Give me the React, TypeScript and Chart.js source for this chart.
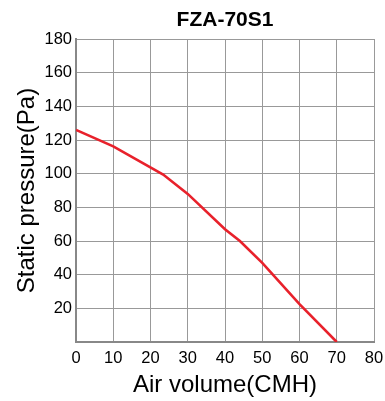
import React, { useEffect, useRef } from "react";
import { Chart, registerables } from "chart.js";

Chart.register(...registerables);

const chartTitle = "FZA-70S1";
const xAxisTitle = "Air volume(CMH)";
const yAxisTitle = "Static pressure(Pa)";
const airVolume = [0, 10, 23.4, 30, 40, 44, 50, 60, 70];
const staticPressure = [126, 116.2, 99.5, 88, 67, 60, 47, 22.5, 0];
const xTicks = [0, 10, 20, 30, 40, 50, 60, 70, 80];
const yTicks = [20, 40, 60, 80, 100, 120, 140, 160, 180];

const FONT = "'Liberation Sans', Arial, Helvetica, sans-serif";

export default function App() {
  const ref = useRef<HTMLCanvasElement | null>(null);

  useEffect(() => {
    if (!ref.current) return;
    const data = airVolume.map((x, i) => ({ x, y: staticPressure[i] }));
    const chart = new Chart(ref.current, {
      type: "scatter",
      data: {
        datasets: [
          {
            data,
            showLine: true,
            borderColor: "#e8212b",
            backgroundColor: "#e8212b",
            borderWidth: 2.6,
            pointRadius: 0,
            tension: 0,
          },
        ],
      },
      options: {
        responsive: false,
        animation: false,
        layout: { padding: { left: 0, right: 11, top: 0, bottom: 0 } },
        plugins: {
          legend: { display: false },
          tooltip: { enabled: false },
          title: {
            display: true,
            fullSize: false,
            text: chartTitle,
            color: "#000",
            font: { family: FONT, size: 21, weight: "bold", lineHeight: 1.2 },
            padding: { top: 7.4, bottom: 6.4 },
          },
        },
        scales: {
          x: {
            type: "linear",
            min: 0,
            max: 80,
            afterBuildTicks: (s: any) => {
              s.ticks = xTicks.map((v) => ({ value: v }));
            },
            afterFit: (s: any) => {
              s.height = 59;
              s.paddingLeft = 0;
              s.paddingRight = 0;
            },
            grid: { color: "#999", lineWidth: 1, drawTicks: false },
            border: { color: "#888", width: 2 },
            ticks: {
              color: "#000",
              padding: 7,
              maxRotation: 0,
              font: { family: FONT, size: 16.5 },
            },
            title: {
              display: true,
              text: xAxisTitle,
              color: "#000",
              font: { family: FONT, size: 24, lineHeight: 1.2 },
              padding: { top: 0, bottom: 1.6 },
            },
          },
          y: {
            type: "linear",
            min: 0,
            max: 180,
            afterBuildTicks: (s: any) => {
              s.ticks = [0, ...yTicks].map((v) => ({ value: v }));
            },
            afterFit: (s: any) => {
              s.width = 76;
              s.paddingTop = 0;
              s.paddingBottom = 0;
            },
            grid: { color: "#999", lineWidth: 1, drawTicks: false },
            border: { color: "#888", width: 2 },
            ticks: {
              color: "#000",
              padding: 4,
              font: { family: FONT, size: 16.5 },
              callback: (v: any) => (v === 0 ? "" : String(v)),
            },
            title: {
              display: true,
              text: yAxisTitle,
              color: "#000",
              font: { family: FONT, size: 24, lineHeight: 1.2 },
              padding: { top: 12.6, bottom: 0 },
            },
          },
        },
      },
    });
    return () => chart.destroy();
  }, []);

  return (
    <div
      style={{
        position: "fixed",
        left: 0,
        top: 0,
        width: 385,
        height: 401,
        background: "#fff",
      }}
    >
      <canvas ref={ref} width={385} height={401} />
    </div>
  );
}
